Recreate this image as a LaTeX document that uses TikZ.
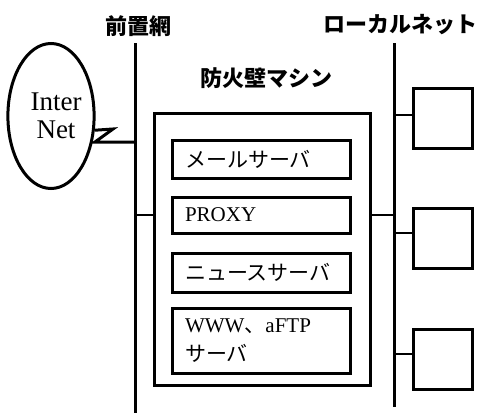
\documentclass[tikz,border=0pt]{standalone}
\usepackage{fontspec}
\setmainfont{Liberation Serif}
\newfontfamily\jp{Noto Sans CJK JP}
\usetikzlibrary{shapes.geometric}
\tikzset{
  thick line/.style={line width=3pt},
  thin line/.style={line width=2pt},
  lbl/.style={font=\jp\bfseries\fontsize{22}{24}\selectfont, inner sep=0pt},
  srv/.style={draw, line width=3pt, minimum width=178pt, text width=152pt, inner xsep=13pt, align=left, font=\fontsize{21}{29}\selectfont},
  host/.style={draw, line width=3pt, minimum width=59pt, minimum height=60pt, inner sep=0pt},
}
\begin{document}
\begin{tikzpicture}[x=1pt,y=-1pt]
\useasboundingbox (0,0) rectangle (477,415);
% labels
\node[lbl] (lf) at (138,26) {前置網};
\node[lbl] (ln) at (400,25) {ローカルネット};
\node[lbl] (lfw) at (266,78) {防火壁マシン};
% backbone lines
\coordinate (ft) at (135,43);
\coordinate (fb) at (135,413);
\coordinate (lt) at (394,43);
\coordinate (lb) at (394,407);
\draw[thick line] (ft) -- (fb);
\draw[thick line] (lt) -- (lb);
% internet
\node[ellipse, draw, line width=3pt, minimum width=78pt, minimum height=145pt, inner sep=0pt, align=center, font=\fontsize{27}{28}\selectfont] (inet) at (51,116) {\hspace*{10pt}Inter\\\hspace*{10pt}Net};
\coordinate (z1) at (113,129);
\coordinate (z2) at (95,142);
\coordinate (z3) at (135,142);
\draw[thick line, line join=miter] (inet.-18.7) -- (z1) -- (z2) -- (z3);
% firewall machine
\node[draw, line width=3pt, minimum width=216pt, minimum height=272pt, inner sep=0pt] (fw) at (262,249) {};
\node[srv, minimum height=38pt] (mail) at (261,159) {\jp メールサーバ};
\node[srv, minimum height=36pt] (proxy) at (261,215) {PROXY};
\node[srv, minimum height=39pt] (news) at (261,272.5) {\jp ニュースサーバ};
\node[srv, minimum height=65pt] (www) at (261,340.5) {WWW{\jp 、}aFTP\\{\jp サーバ}};
\coordinate (jf) at (135,215);
\coordinate (jl) at (394,215);
\draw[thin line] (jf) -- (jf -| fw.west);
\draw[thin line] (jl) -- (jl -| fw.east);
% hosts
\node[host] (h1) at (442.5,118) {};
\node[host] (h2) at (442.5,238) {};
\node[host] (h3) at (442.5,359) {};
\coordinate (j1) at (394,115);
\coordinate (j2) at (394,233);
\coordinate (j3) at (394,354);
\draw[thin line] (j1) -- (j1 -| h1.west);
\draw[thin line] (j2) -- (j2 -| h2.west);
\draw[thin line] (j3) -- (j3 -| h3.west);
\end{tikzpicture}
\end{document}
